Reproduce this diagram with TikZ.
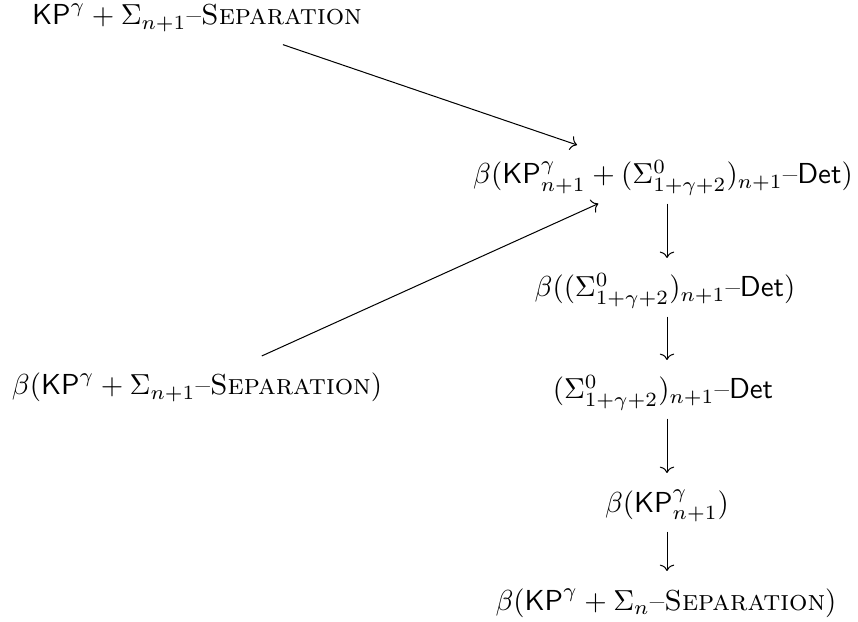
\documentclass[tikz,border=0pt]{standalone}
\usetikzlibrary{arrows.meta}
\begin{document}
\begin{tikzpicture}[x=0.346pt,y=-0.346pt,
  lbl/.style={inner sep=1.8pt,text height=11.5pt,text depth=4.8pt,anchor=base},
  arr/.style={-{To[length=2.2pt,width=5pt]},line width=0.35pt}]
\useasboundingbox (0,0) rectangle (858,622);
\node[lbl] (A) at (197,25) {$\mathsf{KP}^{\gamma}+\Sigma_{n+1}$--\textsc{Separation}};
\node[lbl] (B) at (663,184) {$\beta(\mathsf{KP}^{\gamma}_{n+1}+(\Sigma^0_{1+\gamma+2})_{n+1}$--$\mathsf{Det})$};
\node[lbl] (C) at (665,297) {$\beta((\Sigma^0_{1+\gamma+2})_{n+1}$--$\mathsf{Det})$};
\node[lbl] (D) at (197,395) {$\beta(\mathsf{KP}^{\gamma}+\Sigma_{n+1}$--\textsc{Separation}$)$};
\node[lbl] (E) at (663,399) {$(\Sigma^0_{1+\gamma+2})_{n+1}$--$\mathsf{Det}$};
\node[lbl] (F) at (667,512) {$\beta(\mathsf{KP}^{\gamma}_{n+1})$};
\node[lbl] (G) at (666,610) {$\beta(\mathsf{KP}^{\gamma}+\Sigma_{n}$--\textsc{Separation}$)$};
\coordinate (bc) at (667,0);
\draw[arr] (A) -- (B);
\draw[arr] (D) -- (B);
\draw[arr] (B.south -| bc) -- (C.north -| bc);
\draw[arr] (C.south -| bc) -- (E.north -| bc);
\draw[arr] (E.south -| bc) -- (F.north -| bc);
\draw[arr] (F.south -| bc) -- (G.north -| bc);
\end{tikzpicture}
\end{document}
